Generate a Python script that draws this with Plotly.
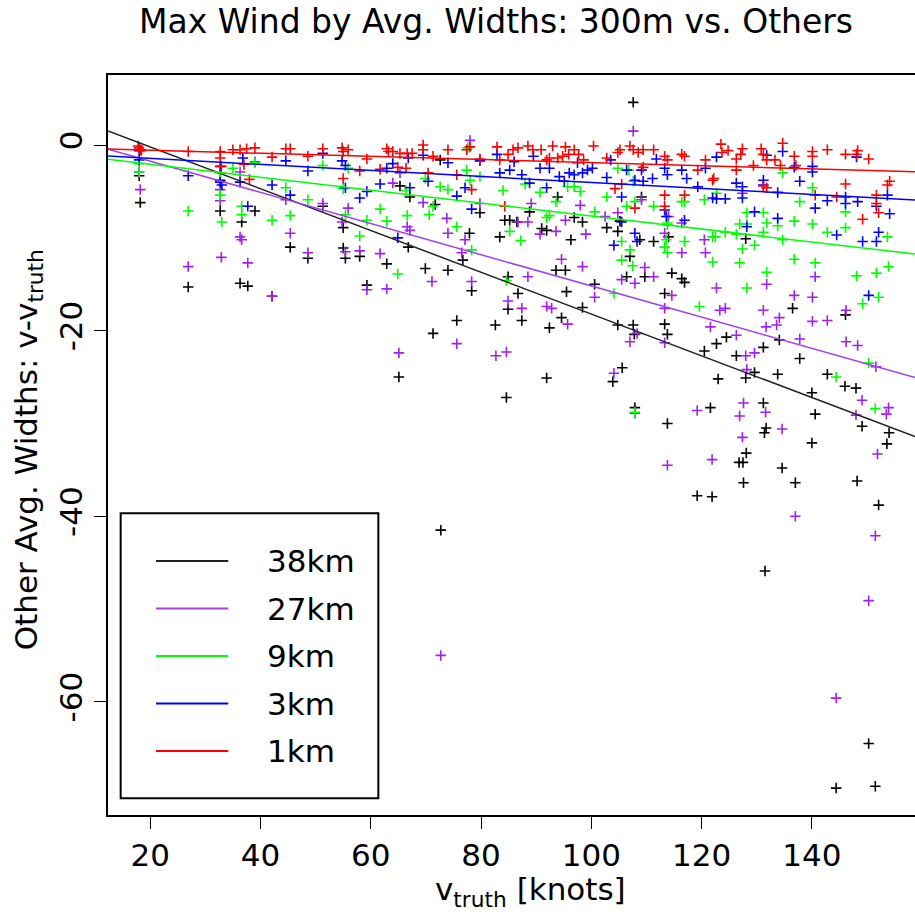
import plotly.graph_objects as go

# ---------------- data ----------------
series_names = ["38km", "27km", "9km", "3km", "1km"]
series_colors = ["#000000", "#A020F0", "#00FF00", "#0000FF", "#FF0000"]
line_colors = ["#222222", "#A040F0", "#00FF00", "#0000FF", "#FF0000"]

# linear-fit coefficients (intercept, slope) for each width
fit_intercept = [4.30, 1.62, -0.675, -0.79, -0.22]
fit_slope = [-0.2251, -0.168, -0.0698, -0.0324, -0.0167]

pts_38km = [
    (18.0, -3.3), (18.2, -6.2), (26.9, -15.3), (32.7, -3.8), (32.7, -7.1), (36.3, -14.9), (37.7, -15.2),
    (36.6, -8.3), (39.0, -7.1), (42.1, -16.3), (45.4, -11.0), (48.6, -12.2), (51.3, -6.6), (55.0, -8.9),
    (55.0, -11.1), (55.4, -12.2), (58.0, -12.0), (59.3, -15.1), (62.9, -12.8), (65.3, -4.4), (67.1, -5.6),
    (66.8, -11.0), (69.9, -13.3), (71.3, -20.3), (71.7, -6.4), (72.6, -1.6), (74.0, -13.5), (75.6, -18.9),
    (76.7, -12.4), (77.9, -9.5), (78.3, -15.7), (79.8, -7.3), (82.6, -19.4),
    (107.6, 4.6), (83.4, -9.9), (84.3, -8.1), (85.2, -8.1), (86.5, -8.3), (91.9, -9.2), (91.0, -9.0),
    (88.8, -7.2), (93.9, -5.6), (96.9, -7.8), (98.4, -8.3), (96.3, -10.2), (102.8, -8.9), (104.8, -9.3),
    (105.2, -8.2), (108.8, -10.2), (111.3, -10.4), (114.0, -9.9), (109.1, -5.6), (107.0, -12.0),
    (93.6, -13.5), (95.3, -13.5), (84.9, -14.2), (86.7, -16.0), (95.5, -15.8), (100.6, -15.0),
    (106.4, -14.2), (109.7, -14.2), (114.6, -13.8), (116.4, -14.4), (116.9, -14.8), (113.3, -16.0),
    (98.4, -17.5), (84.9, -17.7), (87.4, -18.9), (94.6, -18.6), (92.4, -19.7), (104.8, -19.4),
    (107.6, -19.4), (107.8, -20.4), (113.3, -19.3), (113.8, -20.4), (120.5, -22.2), (122.7, -21.4),
    (124.5, -20.7), (126.3, -22.7), (131.2, -21.8), (134.1, -21.0), (136.5, -17.6), (137.8, -23.0),
    (128.0, -10.1), (146.1, -18.3),
    (91.9, -25.1), (105.6, -24.0), (103.9, -25.5), (84.6, -27.2), (107.9, -28.3), (113.8, -30.0),
    (123.0, -25.2), (128.0, -25.1), (129.6, -24.5), (133.8, -24.7), (142.8, -24.7), (140.0, -26.7),
    (146.0, -26.0), (148.0, -26.2), (121.6, -28.3), (131.2, -27.8), (140.6, -29.0), (149.1, -30.3),
    (154.0, -31.0), (153.6, -32.2), (131.7, -30.5), (131.4, -31.0), (128.1, -33.2), (126.8, -34.2),
    (127.5, -34.2), (134.6, -34.8), (140.0, -32.1), (137.0, -36.4), (127.6, -36.4), (119.2, -37.8),
    (121.9, -37.9), (148.2, -36.2), (152.1, -38.8), (131.5, -45.9), (72.7, -41.5), (65.1, -25.0),
    (150.3, -64.5), (144.4, -69.3), (151.5, -69.1),
]

pts_27km = [
    (18.0, -2.9), (18.2, -4.8), (26.9, -13.1), (32.7, -4.8), (32.7, -6.0), (32.9, -12.1), (36.3, -2.9),
    (36.3, -9.9), (36.6, -10.2), (37.7, -12.7), (39.0, -1.8), (42.1, -16.3), (44.6, -5.9), (45.4, -9.5),
    (48.6, -11.6), (51.3, -6.3), (54.8, -8.3), (55.9, -6.8), (55.4, -11.5), (58.0, -11.4), (59.3, -15.6),
    (61.7, -11.7), (62.9, -15.5), (64.0, -4.1), (65.3, -3.0), (66.6, -8.8), (67.1, -9.2), (65.1, -22.4),
    (69.5, -6.2), (71.1, -14.7), (73.8, -7.9), (74.0, -9.5), (75.6, -21.4), (78.0, 0.5), (77.1, -10.2),
    (76.5, -11.6), (78.3, -14.7), (79.8, -6.3), (82.7, -22.7),
    (107.6, 1.5), (84.6, -22.3), (88.5, -14.2), (84.9, -16.8), (87.4, -17.6), (91.9, -17.4), (92.8, -17.6),
    (95.7, -19.3), (94.6, -12.3), (98.4, -13.1), (100.6, -16.4), (105.5, -14.5), (107.9, -14.9),
    (109.7, -13.2), (111.3, -14.2), (107.0, -21.2), (108.3, -20.3), (113.3, -21.3), (113.3, -17.6),
    (114.6, -16.2), (116.4, -11.6), (120.7, -11.6), (122.7, -15.4), (123.3, -17.8), (124.3, -17.6),
    (121.6, -19.6), (126.3, -20.5), (128.0, -22.7), (129.6, -22.4), (131.2, -17.8), (131.8, -15.0),
    (131.7, -19.6), (136.8, -16.2), (140.1, -16.4), (133.6, -19.4), (134.1, -18.6), (137.8, -20.9),
    (140.1, -19.0), (142.8, -18.9), (140.6, -14.2), (146.2, -17.8), (146.2, -21.2), (148.3, -21.6),
    (89.1, -6.3), (86.7, -8.3), (88.5, -8.3), (90.7, -9.6), (93.6, -9.3), (95.3, -8.1), (98.0, -6.5),
    (99.0, -9.6), (104.8, -7.3), (102.5, -7.7), (116.4, -8.4), (113.3, -9.5), (109.1, -5.9),
    (114.0, -7.7), (127.4, -5.2), (120.5, -10.2),
    (104.1, -24.6), (128.2, -24.2), (151.6, -23.9), (149.1, -27.5), (127.6, -27.8), (131.6, -28.8),
    (126.9, -29.2), (134.6, -30.6), (148.0, -29.1), (153.9, -28.3), (153.5, -29.0), (119.2, -28.6),
    (107.9, -28.9), (127.4, -31.5), (151.9, -33.3), (121.9, -33.9), (113.8, -34.5), (137.0, -40.0),
    (151.5, -42.1), (150.3, -49.1), (144.4, -59.6), (72.7, -55.0),
]

pts_9km = [
    (18.0, -2.0), (18.0, -2.9), (26.9, -7.1), (32.7, -3.0), (32.7, -5.4), (33.0, -8.3), (35.0, -2.5),
    (36.6, -6.6), (36.6, -7.5), (39.0, -1.9), (42.1, -8.1), (44.6, -4.6), (45.4, -7.6), (48.6, -5.9),
    (51.3, -2.2), (55.0, -4.7), (55.4, -7.5), (55.9, -2.5), (58.0, -9.8), (59.3, -8.1), (61.7, -6.9),
    (62.9, -8.2), (64.9, -13.9), (66.6, -7.6), (66.4, -4.9), (69.9, -3.6), (70.6, -7.5), (71.3, -6.6),
    (72.6, -4.5), (74.0, -4.8), (75.6, -8.8), (77.4, -2.7), (77.6, -0.3), (78.0, -3.8), (78.3, -11.3),
    (79.8, -3.4),
    (104.8, -2.5), (106.8, -2.7), (107.6, -3.9), (113.8, -8.4), (106.4, -6.6), (107.9, -6.1),
    (111.3, -6.6), (116.4, -6.1), (116.9, -6.1), (120.5, -5.9), (122.7, -5.2), (113.8, -8.6),
    (113.6, -10.2), (113.8, -11.6), (113.3, -11.0), (116.9, -10.4), (122.0, -9.9), (122.5, -9.9),
    (124.3, -9.4), (126.3, -9.6), (127.4, -11.2), (129.6, -10.8), (128.2, -7.3), (126.9, -8.5),
    (128.2, -8.5), (131.2, -7.3), (131.8, -8.4), (131.2, -9.4), (133.8, -8.7), (134.7, -10.2),
    (136.8, -8.2), (140.1, -8.5), (142.8, -9.4), (146.1, -8.9), (146.1, -7.2), (153.7, -9.9),
    (122.0, -12.6), (126.9, -12.7), (136.8, -12.3), (140.6, -12.7), (131.8, -13.7), (128.2, -15.4),
    (119.6, -17.4), (104.1, -16.0), (84.6, -14.6), (148.1, -14.1), (151.7, -13.8), (153.9, -13.1),
    (149.2, -17.1), (152.1, -16.4), (150.3, -23.5), (144.4, -25.0), (151.5, -28.4), (107.9, -28.8),
    (140.1, -4.6), (134.7, -3.0), (137.8, -6.1), (105.5, -12.4), (105.5, -10.4), (107.0, -11.3),
    (107.5, -13.0), (85.2, -9.3), (87.2, -10.3), (90.7, -5.1), (91.9, -7.8), (92.4, -7.6), (93.6, -6.1),
    (95.7, -4.5), (96.9, -4.5), (98.0, -5.0), (100.6, -7.2), (102.8, -5.6), (88.0, -4.2), (84.0, -4.9),
]

pts_3km = [
    (18.0, -0.6), (18.0, -1.6), (26.9, -3.3), (32.7, -2.3), (32.7, -4.0), (33.0, -4.3), (36.8, -1.4),
    (36.3, -4.0), (37.7, -6.6), (42.1, -4.3), (44.6, -1.7), (45.4, -5.4), (48.6, -2.8), (51.3, -0.9),
    (54.8, -1.7), (55.4, -2.2), (55.4, -4.6), (58.0, -5.7), (59.3, -5.0), (61.7, -4.2), (62.9, -2.5),
    (64.0, -2.0), (64.9, -10.0), (67.1, -4.6), (66.8, -1.4), (69.5, -1.1), (70.4, -3.9), (74.0, -1.9),
    (75.6, -5.5), (77.1, -4.6), (78.3, -6.9), (79.8, -1.7), (82.9, -1.0),
    (83.4, -3.0), (85.2, -2.7), (87.4, -3.2), (90.7, -2.5), (92.4, -2.5), (88.8, -4.1), (91.9, -4.6),
    (94.2, -3.4), (95.1, -3.9), (96.0, -3.0), (96.9, -3.2), (98.4, -3.0), (99.3, -2.7), (100.2, -2.5),
    (102.8, -3.5), (105.5, -5.6), (106.4, -2.7), (107.9, -3.8), (109.1, -2.7), (109.4, -3.9),
    (111.1, -3.6), (113.3, -2.5), (113.8, -3.2), (116.4, -2.7), (117.3, -3.6), (113.3, -7.0),
    (113.6, -7.7), (116.9, -8.1), (104.1, -10.8), (107.9, -9.5), (108.3, -10.4), (105.5, -8.3),
    (119.3, -4.5), (120.7, -2.5), (122.0, -5.7), (122.7, -5.8), (124.3, -5.8), (126.3, -4.1),
    (127.4, -4.5), (127.4, -5.7), (129.6, -7.2), (128.2, -8.8), (131.2, -3.8), (131.2, -4.3),
    (131.8, -1.1), (134.7, -0.7), (133.8, -5.1), (136.8, -2.4), (137.8, -3.9), (140.1, -2.3),
    (140.1, -2.9), (140.6, -6.8), (142.8, -6.0), (144.5, -9.7), (146.1, -5.6), (146.1, -6.3),
    (148.1, -1.3), (148.3, -6.1), (149.2, -10.4), (151.7, -10.4), (152.1, -9.4), (150.3, -16.2),
    (151.7, -6.6), (153.7, -5.4), (154.1, -7.4), (133.8, -7.9), (122.7, -1.3), (86.0, -1.8),
    (89.5, -1.2), (97.5, -1.9), (103.5, -1.6), (111.8, -1.5),
]

pts_1km = [
    (17.8, -0.1), (18.0, -0.3), (18.2, -0.5), (18.4, -0.6), (26.9, -0.7), (32.7, -0.7), (32.7, -1.4),
    (32.9, -2.3), (35.0, -0.5), (36.3, -0.5), (37.5, -0.4), (37.0, -2.1), (38.0, -3.7), (39.0, -0.3),
    (42.1, -1.3), (44.6, -0.4), (45.4, -0.4), (48.6, -1.2), (51.3, -0.4), (54.8, -0.3), (55.0, -0.7),
    (55.0, -3.6), (55.9, -0.5), (58.0, -2.8), (59.3, -1.5), (61.7, -2.6), (62.9, -0.4), (63.2, -0.7),
    (64.0, -0.7), (65.3, -0.9), (66.6, -0.9), (67.5, -0.9), (64.9, -2.4), (66.4, -2.5), (69.5, 0.0),
    (69.5, -0.5), (70.4, -3.0), (71.3, -1.2), (74.0, -0.5), (75.6, -3.2), (77.4, -0.5), (78.0, -0.2),
    (78.3, -4.8), (79.8, -1.5), (82.9, -0.2),
    (83.4, -1.6), (84.3, -6.6), (84.9, -1.0), (85.8, -0.5), (86.7, -0.3), (88.5, -0.1), (89.4, -0.5),
    (90.9, -0.5), (91.9, -1.6), (92.4, -1.4), (93.0, -0.1), (93.9, -1.4), (94.8, -1.2), (95.3, -0.2),
    (95.9, -1.0), (96.9, -0.5), (97.7, -1.0), (98.6, -1.6), (100.4, -0.1), (102.8, -1.4), (104.3, -4.7),
    (104.8, -0.8), (105.2, -0.5), (105.5, -4.2), (107.0, -0.1), (107.6, -0.5), (108.5, -0.8),
    (109.4, -0.5), (107.9, -6.8), (109.4, -2.4), (111.3, -0.5), (113.3, -1.2), (113.8, -1.6),
    (113.3, -5.4), (113.3, -6.6), (116.4, -1.0), (116.9, -1.2), (116.9, -5.4), (119.3, -2.7),
    (120.7, -1.6), (122.0, -3.8), (122.2, -3.6), (123.5, 0.1), (123.7, -0.8), (124.8, -0.6),
    (126.3, -2.7), (126.3, -1.5), (127.1, -1.0), (127.4, -0.4), (129.4, -2.2), (130.8, -0.4),
    (131.2, -1.0), (131.8, -1.6), (131.2, -4.4), (131.8, -4.6), (133.3, -1.6), (134.3, -2.2),
    (134.7, 0.2), (136.8, -1.2), (137.1, -2.2), (140.1, -0.7), (140.1, -1.2), (140.6, -5.4),
    (142.8, -0.5), (144.5, -5.6), (146.1, -1.0), (148.1, -1.0), (148.3, -0.6), (146.1, -4.2),
    (149.2, -8.0), (150.3, -1.5), (151.7, -5.4), (151.7, -6.3), (152.1, -7.3), (153.7, -4.3),
    (154.1, -3.9),
]

all_points = [pts_38km, pts_27km, pts_9km, pts_3km, pts_1km]

x_ticks = [20, 40, 60, 80, 100, 120, 140]
y_ticks = [-60, -40, -20, 0]
x_range = [12.35, 158.7]
y_range = [-72.2, 7.55]

title_text = "Max Wind by Avg. Widths: 300m vs. Others"
x_title = "v<sub>truth</sub> [knots]"
y_title = "Other Avg. Widths: v-v<sub>truth</sub>"

FONT = "DejaVu Sans"

# ---------------- figure ----------------
fig = go.Figure()

for pts, color, name in zip(all_points, series_colors, series_names):
    xs = [p[0] for p in pts]
    ys = [p[1] for p in pts]
    fig.add_trace(go.Scatter(
        x=xs, y=ys, mode="markers", name=name, showlegend=False,
        marker=dict(symbol="cross-thin", size=7.5, color=color,
                    line=dict(color=color, width=1.6)),
        hoverinfo="skip",
    ))

for b0, b1, color, name in zip(fit_intercept, fit_slope, line_colors, series_names):
    xs = [x_range[0], x_range[1]]
    ys = [b0 + b1 * x for x in xs]
    fig.add_trace(go.Scatter(
        x=xs, y=ys, mode="lines", name=name, showlegend=False,
        line=dict(color=color, width=1.5), hoverinfo="skip",
    ))

# ---------------- manual legend (R-style box) ----------------
leg_x0, leg_x1 = 0.0157, 0.335
leg_y0, leg_y1 = 0.0226, 0.4077
row_top, row_step = 0.3432, 0.0642
shapes = [dict(type="rect", xref="paper", yref="paper", x0=leg_x0, x1=leg_x1,
               y0=leg_y0, y1=leg_y1, line=dict(color="black", width=2),
               fillcolor="white", layer="above")]
annotations = []
for i, (name, color) in enumerate(zip(series_names, line_colors)):
    yy = row_top - i * row_step
    shapes.append(dict(type="line", xref="paper", yref="paper", x0=0.0595, x1=0.149,
                       y0=yy, y1=yy, line=dict(color=color, width=2), layer="above"))
    annotations.append(dict(xref="paper", yref="paper", x=0.1945, y=yy, text=name,
                            showarrow=False, xanchor="left", yanchor="middle",
                            font=dict(family=FONT, size=31, color="black")))

# axis titles as positioned text
annotations.append(dict(xref="paper", yref="paper", x=0.524, y=-0.104, text=x_title,
                        showarrow=False, xanchor="center", yanchor="middle",
                        font=dict(family=FONT, size=31, color="black")))
annotations.append(dict(xref="paper", yref="paper", x=-0.099, y=0.493, text=y_title,
                        showarrow=False, xanchor="center", yanchor="middle", textangle=-90,
                        font=dict(family=FONT, size=31, color="black")))

fig.update_layout(
    width=915, height=919,
    margin=dict(l=108, r=0, t=75, b=104),
    paper_bgcolor="white", plot_bgcolor="white",
    title=dict(text=title_text, x=496 / 915, xref="container", xanchor="center",
               y=1 - 21 / 919, yref="container", yanchor="middle",
               font=dict(family=FONT, size=33, color="black")),
    shapes=shapes, annotations=annotations,
    showlegend=False,
    xaxis=dict(range=x_range, tickvals=x_ticks, ticktext=[str(v) for v in x_ticks],
               ticks="outside", ticklen=12, tickwidth=1,
               tickcolor="black", showline=True, linecolor="black", linewidth=1.5,
               mirror=True, showgrid=False, zeroline=False,
               tickfont=dict(family=FONT, size=31, color="black")),
    yaxis=dict(range=y_range, tickvals=y_ticks, ticktext=[str(v) for v in y_ticks],
               ticks="outside", ticklen=12, tickwidth=1,
               tickcolor="black", showline=True, linecolor="black", linewidth=1.5,
               mirror=False, showgrid=False, zeroline=False, tickangle=-90,
               tickfont=dict(family=FONT, size=31, color="black")),
)

fig.write_html("out.html")
